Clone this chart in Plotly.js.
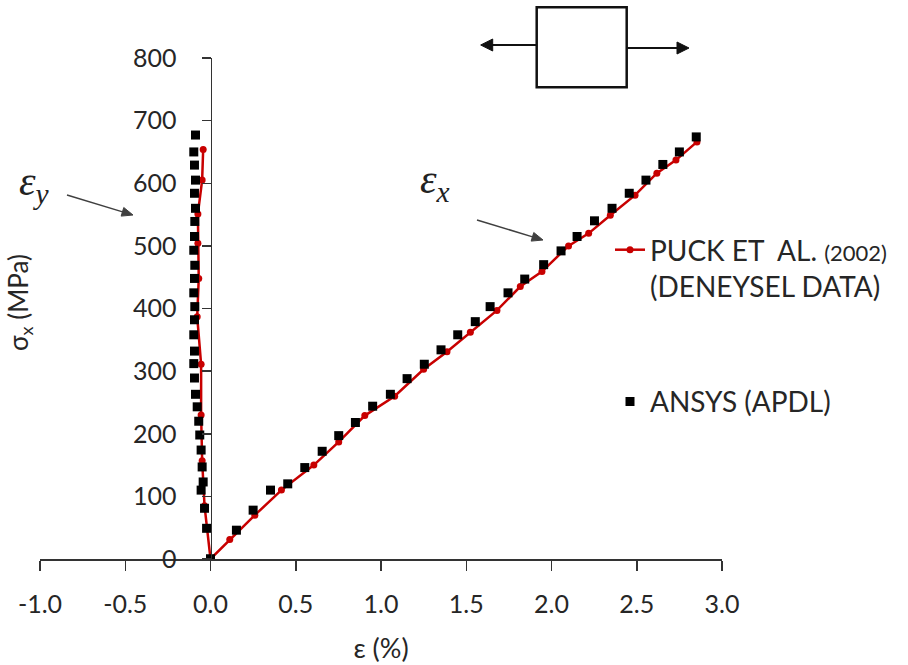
<!DOCTYPE html>
<html><head><meta charset="utf-8">
<script src="https://cdn.plot.ly/plotly-3.0.1.min.js"></script>
<style>html,body{margin:0;padding:0;background:#fff}</style>
</head><body><div id="chart" style="width:908px;height:665px"></div>
<script>
// PUCK et al. (2002) — Deneysel data
const puckEpsXStrain = [0, 0.113, 0.26, 0.416, 0.606, 0.752, 0.905, 1.08, 1.25, 1.387, 1.524, 1.68, 1.817, 1.944, 2.10, 2.218, 2.345, 2.49, 2.618, 2.73, 2.853];
const puckEpsXStress = [0, 31, 70, 110, 150, 187, 229, 260, 303, 331, 362, 397, 435, 459, 500, 520, 549, 581, 616, 637, 666];
const puckEpsYStrain = [0, -0.035, -0.049, -0.055, -0.055, -0.078, -0.069, -0.074, -0.074, -0.049, -0.043];
const puckEpsYStress = [0, 85, 157, 230, 311, 387, 448, 504, 551, 605, 654];
// ANSYS (APDL)
const ansysEpsXStrain = [0, 0.152, 0.25, 0.352, 0.453, 0.553, 0.655, 0.752, 0.85, 0.951, 1.055, 1.153, 1.254, 1.352, 1.45, 1.553, 1.64, 1.745, 1.843, 1.954, 2.056, 2.15, 2.252, 2.355, 2.456, 2.554, 2.653, 2.75, 2.849];
const ansysEpsXStress = [0, 46, 78, 110, 120, 146, 172, 197, 218, 244, 263, 288, 311, 334, 358, 379, 403, 425, 447, 470, 492, 515, 540, 560, 584, 605, 630, 650, 674];
const ansysEpsYStrain = [0, -0.023, -0.035, -0.055, -0.043, -0.049, -0.055, -0.063, -0.069, -0.078, -0.088, -0.094, -0.098, -0.094, -0.098, -0.094, -0.092, -0.098, -0.094, -0.092, -0.098, -0.094, -0.092, -0.088, -0.094, -0.088, -0.094, -0.098, -0.088];
const ansysEpsYStress = [0, 49, 81, 110, 123, 147, 174, 198, 220, 243, 263, 289, 312, 332, 358, 382, 403, 425, 448, 469, 493, 515, 539, 560, 584, 605, 629, 650, 677];

const xTickVals = [-1, -0.5, 0, 0.5, 1, 1.5, 2, 2.5, 3];
const xTickText = ['-1.0', '-0.5', '0.0', '0.5', '1.0', '1.5', '2.0', '2.5', '3.0'];
const yTickVals = [0, 100, 200, 300, 400, 500, 600, 700, 800];

const puckName = 'PUCK ET&nbsp;&nbsp;AL. <span style="font-size:22px">(2002)</span><br>(DENEYSEL DATA)';
const ansysName = 'ANSYS (APDL)';

// plot-area pixel geometry -> paper fractions (for decorations only)
const L = 40, R = 722, T = 58, B = 559;
const px = v => (v - L) / (R - L);
const py = v => (B - v) / (B - T);

const RED = '#C80000';
const TXT = '#262626';
const FONT = 'Lato, "Open Sans", sans-serif';
const SERIF = '"Liberation Serif", "DejaVu Serif", serif';

// decorative arrow (shaft + filled head) built from pixel endpoints
function arrowShapes(tx, ty, hx, hy, width, color, headLen, headHalf) {
  const dx = hx - tx, dy = hy - ty, len = Math.hypot(dx, dy);
  const ux = dx / len, uy = dy / len, nx = -uy, ny = ux;
  const bx = hx - ux * headLen, by = hy - uy * headLen;
  const p = (x, y) => px(x) + ',' + py(y);
  return [
    {type: 'line', xref: 'paper', yref: 'paper', x0: px(tx), y0: py(ty), x1: px(bx + ux), y1: py(by + uy),
     line: {color: color, width: width}},
    {type: 'path', xref: 'paper', yref: 'paper',
     path: 'M' + p(hx, hy) + 'L' + p(bx + nx * headHalf, by + ny * headHalf) + 'L' + p(bx - nx * headHalf, by - ny * headHalf) + 'Z',
     fillcolor: color, line: {color: color, width: 1}}
  ];
}

const traces = [
  {x: puckEpsYStrain, y: puckEpsYStress, mode: 'lines+markers', name: puckName, legendgroup: 'puck', showlegend: false,
   line: {color: RED, width: 2.5}, marker: {color: RED, size: 7, symbol: 'circle'}},
  {x: puckEpsXStrain, y: puckEpsXStress, mode: 'lines+markers', name: puckName, legendgroup: 'puck',
   line: {color: RED, width: 2.5}, marker: {color: RED, size: 7, symbol: 'circle'}},
  {x: ansysEpsYStrain, y: ansysEpsYStress, mode: 'markers', name: ansysName, legendgroup: 'ansys', showlegend: false,
   marker: {color: '#000', size: 9, symbol: 'square'}},
  {x: ansysEpsXStrain, y: ansysEpsXStress, mode: 'markers', name: ansysName, legendgroup: 'ansys',
   marker: {color: '#000', size: 9, symbol: 'square'}}
];

const shapes = [
  {type: 'rect', xref: 'paper', yref: 'paper', x0: px(536.7), x1: px(626.7), y0: py(87.3), y1: py(7.3),
   line: {color: '#111', width: 2.5}, fillcolor: 'rgba(0,0,0,0)'}
].concat(
  arrowShapes(536.7, 45, 480.7, 45, 2, '#111', 12, 6),
  arrowShapes(626.7, 48, 689, 48, 2, '#111', 12, 6),
  arrowShapes(67, 195, 133, 215, 1.5, '#404040', 11, 4.5),
  arrowShapes(477, 220, 543, 240, 1.5, '#404040', 11, 4.5)
);

const layout = {
  width: 908, height: 665,
  margin: {l: L, r: 908 - R, t: T, b: 665 - B, autoexpand: false},
  paper_bgcolor: '#fff', plot_bgcolor: '#fff',
  font: {family: FONT, color: TXT},
  showlegend: true,
  legend: {x: px(610), y: py(225), xanchor: 'left', yanchor: 'top', valign: 'top',
           traceorder: 'grouped', tracegroupgap: 76, bgcolor: 'rgba(0,0,0,0)',
           font: {family: FONT, size: 28, color: TXT}},
  xaxis: {range: [-1, 3], tickvals: xTickVals, ticktext: xTickText, showgrid: false, zeroline: false,
          showline: true, linecolor: '#333', linewidth: 1.5, ticks: 'outside', ticklen: 10, tickwidth: 1.5, tickcolor: '#333',
          ticklabelstandoff: 12,
          tickfont: {family: FONT, size: 25, color: TXT},
          title: {text: 'ε (%)', font: {family: FONT, size: 27, color: TXT}, standoff: 22}},
  yaxis: {range: [0, 800], tickvals: yTickVals, anchor: 'free', position: 0.25, side: 'left',
          showgrid: false, zeroline: false, showline: true, linecolor: '#333', linewidth: 1.5,
          ticks: 'outside', ticklen: 9, tickwidth: 1.5, tickcolor: '#333', ticklabelstandoff: 20,
          tickfont: {family: FONT, size: 25, color: TXT}},
  shapes: shapes,
  annotations: [
    {xref: 'paper', yref: 'paper', x: px(19), y: py(303), xanchor: 'center', yanchor: 'middle',
     text: 'σ<sub>x</sub> (MPa)', showarrow: false, textangle: -90, font: {family: FONT, size: 26, color: TXT}},
    {xref: 'paper', yref: 'paper', x: px(34), y: py(184), xanchor: 'center', yanchor: 'middle',
     text: '<i>ε</i><sub><i>y</i></sub>', showarrow: false, font: {family: SERIF, size: 42, color: '#222'}},
    {xref: 'paper', yref: 'paper', x: px(435), y: py(182), xanchor: 'center', yanchor: 'middle',
     text: '<i>ε</i><sub><i>x</i></sub>', showarrow: false, font: {family: SERIF, size: 42, color: '#222'}}
  ]
};

Plotly.newPlot('chart', traces, layout, {displayModeBar: false, staticPlot: true});
</script>
</body></html>
